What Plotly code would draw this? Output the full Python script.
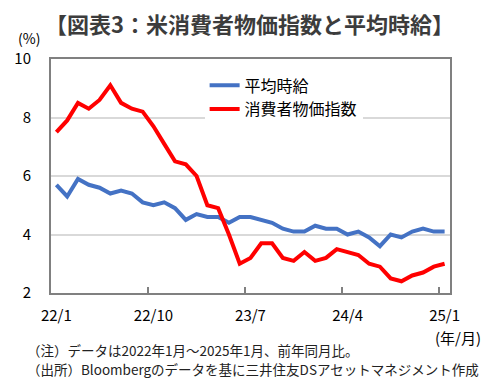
import plotly.graph_objects as go

months = [
    "22/1", "22/2", "22/3", "22/4", "22/5", "22/6", "22/7", "22/8", "22/9", "22/10", "22/11", "22/12",
    "23/1", "23/2", "23/3", "23/4", "23/5", "23/6", "23/7", "23/8", "23/9", "23/10", "23/11", "23/12",
    "24/1", "24/2", "24/3", "24/4", "24/5", "24/6", "24/7", "24/8", "24/9", "24/10", "24/11", "24/12",
    "25/1",
]
wages = [
    5.7, 5.3, 5.9, 5.7, 5.6, 5.4, 5.5, 5.4, 5.1, 5.0, 5.1, 4.9,
    4.5, 4.7, 4.6, 4.6, 4.4, 4.6, 4.6, 4.5, 4.4, 4.2, 4.1, 4.1,
    4.3, 4.2, 4.2, 4.0, 4.1, 3.9, 3.6, 4.0, 3.9, 4.1, 4.2, 4.1,
    4.1,
]
cpi = [
    7.5, 7.9, 8.5, 8.3, 8.6, 9.1, 8.5, 8.3, 8.2, 7.7, 7.1, 6.5,
    6.4, 6.0, 5.0, 4.9, 4.0, 3.0, 3.2, 3.7, 3.7, 3.2, 3.1, 3.4,
    3.1, 3.2, 3.5, 3.4, 3.3, 3.0, 2.9, 2.5, 2.4, 2.6, 2.7, 2.9,
    3.0,
]
x_ticks = ["22/1", "22/10", "23/7", "24/4", "25/1"]
y_ticks = [2, 4, 6, 8, 10]

FONT = "Noto Sans CJK JP"
GRAY = "#808080"

fig = go.Figure()
fig.add_trace(go.Scatter(x=months, y=wages, mode="lines", name="平均時給",
                         line=dict(color="#4472C4", width=4)))
fig.add_trace(go.Scatter(x=months, y=cpi, mode="lines", name="消費者物価指数",
                         line=dict(color="#FF0000", width=4)))

fig.update_layout(
    width=499, height=390,
    margin=dict(l=51, r=49, t=59, b=97),
    paper_bgcolor="white", plot_bgcolor="white",
    font=dict(family=FONT, color="#000000", size=15),
    showlegend=True,
    legend=dict(x=0.385, y=0.96, xanchor="left", yanchor="top",
                bgcolor="white", font=dict(size=16, family=FONT),
                tracegroupgap=0, itemwidth=30),
    title=dict(text="<b>【図表3：米消費者物価指数と平均時給】</b>",
               x=0.5, xanchor="center", y=1 - 25 / 390, yanchor="middle",
               font=dict(size=22, family=FONT, color="#3C3C3C")),
)

fig.update_xaxes(
    type="category", range=[-0.5, len(months) - 0.5],
    tickmode="array", tickvals=x_ticks, ticktext=x_ticks, tickangle=0,
    tickson="boundaries", ticks="inside", ticklen=6, tickwidth=2, tickcolor=GRAY,
    showline=True, linecolor=GRAY, linewidth=2, mirror=True,
    showgrid=False, zeroline=False, automargin=False,
    tickfont=dict(size=15, family=FONT, color="#000"),
    ticklabelstandoff=8,
)
fig.update_yaxes(
    range=[2, 10], tickmode="array", tickvals=y_ticks,
    showline=True, linecolor=GRAY, linewidth=2, mirror=True,
    showgrid=True, gridcolor="#D9D9D9", gridwidth=2, zeroline=False,
    ticks="", tickfont=dict(size=15, family=FONT, color="#000"),
    ticklabelstandoff=15, automargin=False,
)

fig.add_annotation(text="(%)", xref="paper", yref="paper", x=-22 / 400, y=(293 - 49) / 234,
                   xanchor="center", yanchor="bottom", showarrow=False, borderpad=0,
                   font=dict(size=14, family=FONT, color="#000"))
fig.add_annotation(text="(年/月)", xref="paper", yref="paper", x=(459 - 51) / 400, y=(293 - 337) / 234,
                   xanchor="center", yanchor="middle", showarrow=False,
                   font=dict(size=15, family=FONT, color="#000"))
fig.add_annotation(text="（注）データは2022年1月～2025年1月、前年同月比。", xref="paper", yref="paper",
                   x=(25 - 51) / 400, y=(293 - 350) / 234, xanchor="left", yanchor="middle",
                   showarrow=False, font=dict(size=13.5, family=FONT, color="#222"))
fig.add_annotation(text="（出所）Bloombergのデータを基に三井住友DSアセットマネジメント作成", xref="paper", yref="paper",
                   x=(25 - 51) / 400, y=(293 - 369) / 234, xanchor="left", yanchor="middle",
                   showarrow=False, font=dict(size=13.5, family=FONT, color="#222"))

fig.write_html("out.html", config={"displayModeBar": False},
               post_script="document.body.style.margin='0';")
